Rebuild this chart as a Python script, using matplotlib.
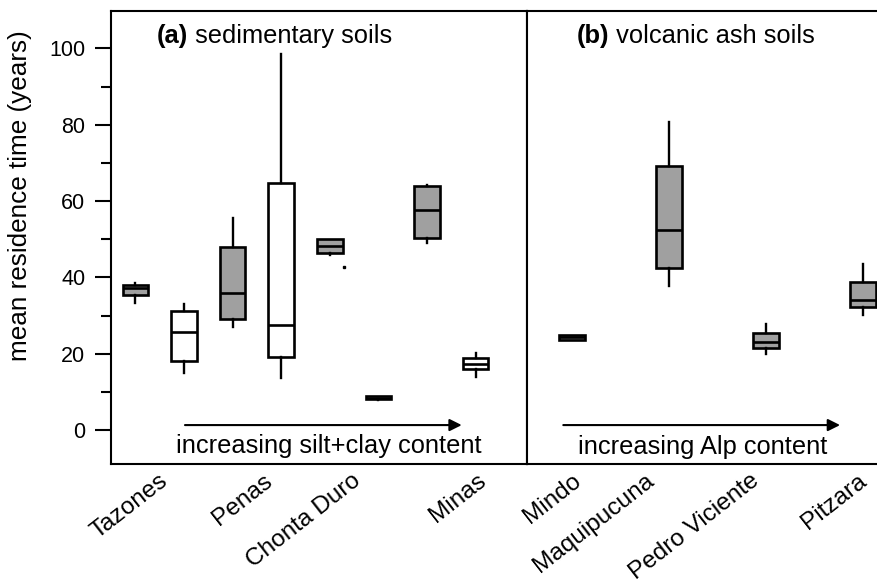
import matplotlib
matplotlib.use("Agg")
import matplotlib.pyplot as plt
from matplotlib.ticker import MultipleLocator

plt.rcParams['font.family'] = ['Liberation Sans', 'DejaVu Sans']

# (a) sedimentary soils: two boxes per site (grey / white)
sed_sites = ['Tazones', 'Penas', 'Chonta Duro', 'Minas']
sed_q1 = [35.4, 18.2, 29.0, 19.2, 46.5, 8.1, 50.4, 15.9]
sed_med = [37.3, 25.6, 35.9, 27.6, 48.3, 8.45, 57.6, 17.3]
sed_q3 = [38.0, 31.3, 47.9, 64.6, 50.0, 8.8, 63.9, 18.8]
sed_lo = [33.4, 15.0, 27.0, 13.6, 45.9, 8.0, 49.0, 14.0]
sed_hi = [38.5, 33.1, 55.6, 98.6, 50.0, 8.9, 64.1, 20.3]
sed_outlier = [None, None, None, None, 42.6, None, None, None]

# (b) volcanic ash soils
vol_sites = ['Mindo', 'Maquipucuna', 'Pedro Viciente', 'Pitzara']
vol_q1 = [23.7, 42.5, 21.4, 32.3]
vol_med = [24.3, 52.4, 23.1, 34.2]
vol_q3 = [24.8, 69.3, 25.5, 38.7]
vol_lo = [23.5, 37.8, 19.8, 30.1]
vol_hi = [25.0, 80.8, 27.8, 43.5]

GREY = '#a0a0a0'
LW = 1.5      # spines / ticks
BLW = 1.9     # box outlines

fig = plt.figure(figsize=(8.77, 5.84), dpi=100)
W, H = 877.0, 584.0
ax_a = fig.add_axes([111 / W, 1 - 464 / H, (527 - 111) / W, (464 - 11) / H])
ax_b = fig.add_axes([527 / W, 1 - 464 / H, (900 - 527) / W, (464 - 11) / H], sharey=ax_a)


def make_stats(q1, med, q3, lo, hi):
    return [dict(q1=a, med=m, q3=b, whislo=l, whishi=h, fliers=[])
            for a, m, b, l, h in zip(q1, med, q3, lo, hi)]


def draw_boxes(ax, stats, width, colors):
    pos = list(range(1, len(stats) + 1))
    bp = ax.bxp(stats, positions=pos, widths=width, patch_artist=True,
                showcaps=False, showfliers=False,
                boxprops=dict(linewidth=BLW, edgecolor='k'),
                medianprops=dict(color='k', linewidth=BLW),
                whiskerprops=dict(color='k', linewidth=1.7))
    for patch, c in zip(bp['boxes'], colors):
        patch.set_facecolor(c)
    return pos


pos_a = draw_boxes(ax_a, make_stats(sed_q1, sed_med, sed_q3, sed_lo, sed_hi),
                   0.527, [GREY, 'white'] * 4)
for p, v in zip(pos_a, sed_outlier):
    if v is not None:
        ax_a.plot(p + 0.3, v, 's', color='k', ms=1.8)

draw_boxes(ax_b, make_stats(vol_q1, vol_med, vol_q3, vol_lo, vol_hi),
           0.265, [GREY] * 4)

ax_a.set_xlim(0.496, 9.06)
ax_b.set_xlim(0.533, 4.378)
ax_a.set_ylim(-8.9, 109.8)

# y axis
ax_a.set_yticks(range(0, 101, 20))
ax_a.yaxis.set_minor_locator(MultipleLocator(10))
ax_a.tick_params(axis='y', which='major', direction='out', length=11.5,
                 width=LW, labelsize=15.5, pad=7)
ax_a.tick_params(axis='y', which='minor', direction='out', length=7, width=LW)
ax_a.set_ylabel('mean residence time (years)', fontsize=18.8)
ax_a.yaxis.set_label_coords(-0.19, 0.592)
ax_b.tick_params(axis='y', which='both', left=False, labelleft=False)

# x tick labels (placed under each site)
lab_a = [1.607, 3.769, 5.581, 8.155]
lab_b = [1.059, 1.811, 2.894, 4.007]
for ax, ticks, names in [(ax_a, lab_a, sed_sites), (ax_b, lab_b, vol_sites)]:
    ax.set_xticks(ticks)
    ax.set_xticklabels(names, rotation=38, ha='right', va='center',
                       rotation_mode='anchor', fontsize=17.6)
    ax.tick_params(axis='x', length=0, pad=10.5)
    for s in ax.spines.values():
        s.set_linewidth(LW)

# panel titles
for ax, x0, tag, rest in [(ax_a, 1.44, '(a)', ' sedimentary soils'),
                          (ax_b, 1.045, '(b)', ' volcanic ash soils')]:
    t = ax.text(x0, 101.4, tag, fontsize=18.4, fontweight='bold', va='baseline')
    ax.annotate(rest, xy=(1, 0), xycoords=t, fontsize=18.4, va='bottom')

# trend arrows
ax_a.annotate('', xy=(7.716, 1.3), xytext=(2.019, 1.3),
              arrowprops=dict(arrowstyle='-|>', color='k', lw=LW, mutation_scale=18,
                              shrinkA=0, shrinkB=0))
ax_a.text(4.984, -5.95, 'increasing silt+clay content', fontsize=18.3,
          ha='center', va='baseline')
ax_b.annotate('', xy=(3.76, 1.3), xytext=(0.907, 1.3),
              arrowprops=dict(arrowstyle='-|>', color='k', lw=LW, mutation_scale=18,
                              shrinkA=0, shrinkB=0))
ax_b.text(2.347, -6.2, 'increasing Alp content', fontsize=18.3,
          ha='center', va='baseline')

fig.savefig('out.png', dpi=100)
